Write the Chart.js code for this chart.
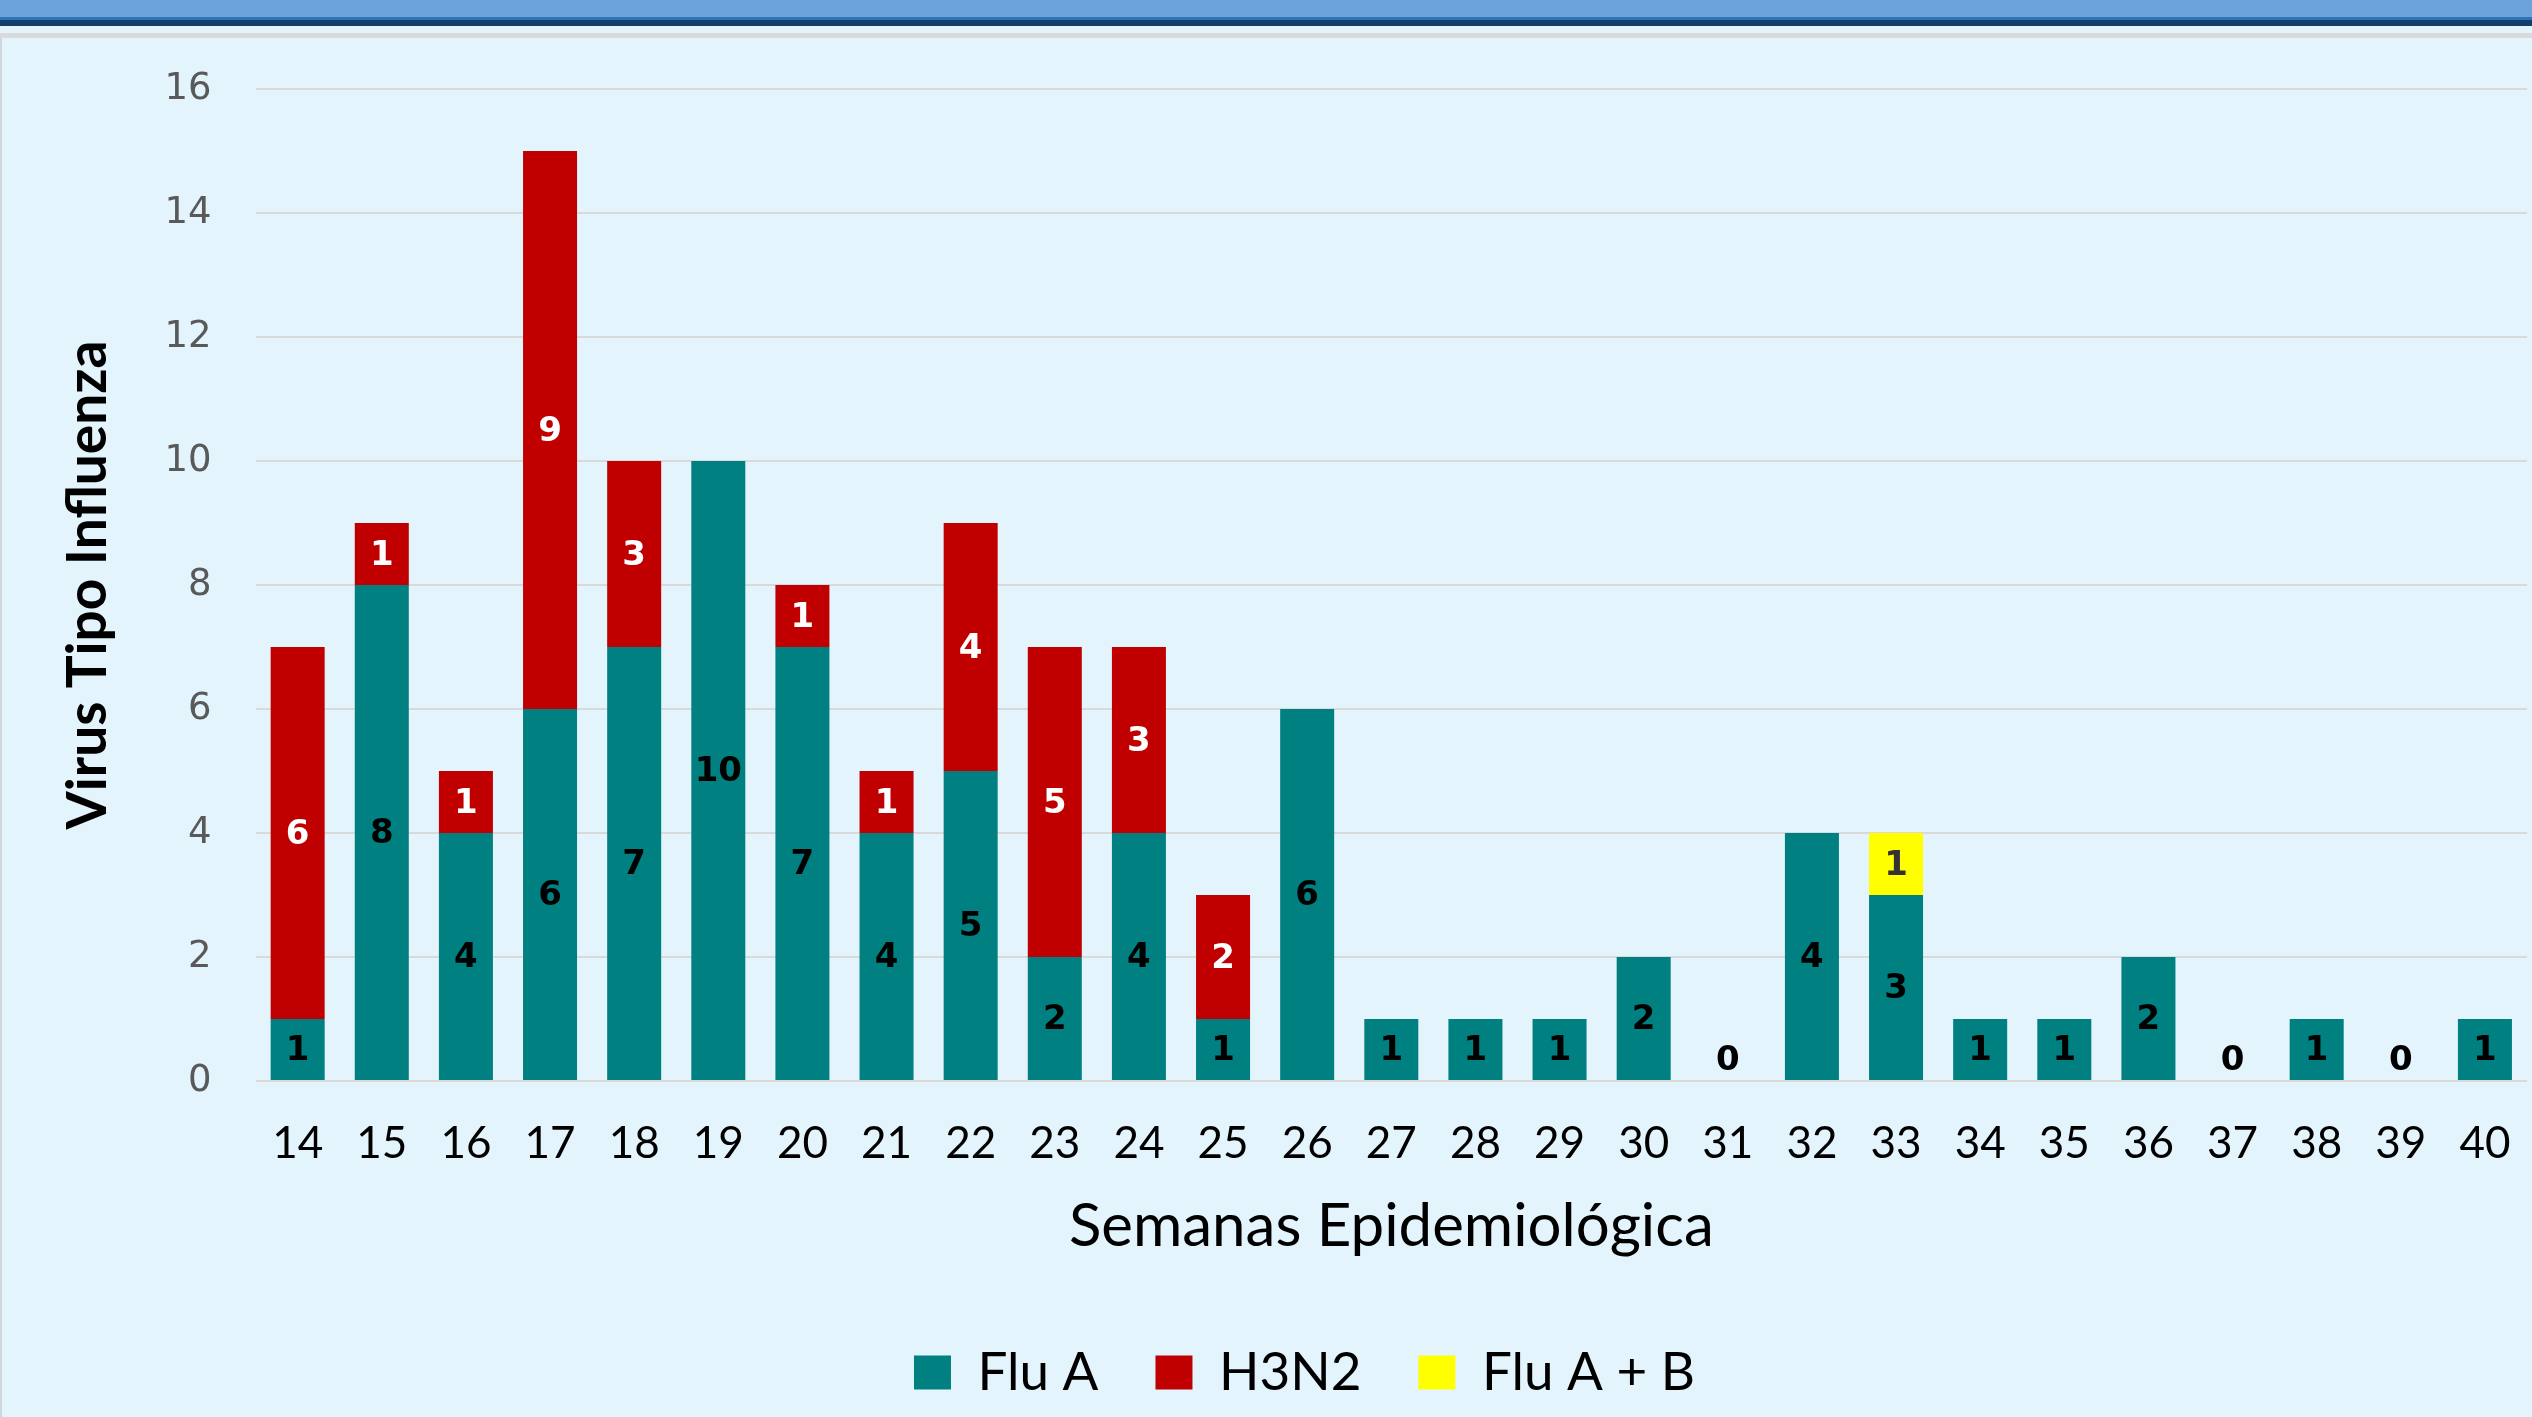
<!DOCTYPE html>
<html><head><meta charset="utf-8">
<script src="https://cdn.jsdelivr.net/npm/chart.js@4.4.0/dist/chart.umd.min.js"></script>
<style>
html,body{margin:0;padding:0;width:2532px;height:1417px;overflow:hidden;background:#E3F4FC;}
#b1{position:absolute;left:0;top:0;width:2532px;height:17px;background:#6AA4DA;}
#b2{position:absolute;left:0;top:17px;width:2532px;height:3px;background:#2F74B5;}
#b3{position:absolute;left:0;top:20px;width:2532px;height:6px;background:#123F6C;}
#b4{position:absolute;left:0;top:33px;width:2532px;height:5px;background:#D9DADB;}
#bl{position:absolute;left:0;top:38px;width:2px;height:1379px;background:#D0D6DA;}
canvas{position:absolute;left:0;top:0;}
</style></head><body>
<div id="b1"></div><div id="b2"></div><div id="b3"></div><div id="b4"></div><div id="bl"></div>
<canvas id="c" width="2532" height="1417"></canvas>
<script>
const weeks = ['14','15','16','17','18','19','20','21','22','23','24','25','26','27','28','29','30','31','32','33','34','35','36','37','38','39','40'];
const fluA  = [1,8,4,6,7,10,7,4,5,2,4,1,6,1,1,1,2,0,4,3,1,1,2,0,1,0,1];
const h3n2  = [6,1,1,9,3,0,1,1,4,5,3,2,0,0,0,0,0,0,0,0,0,0,0,0,0,0,0];
const fluAB = [0,0,0,0,0,0,0,0,0,0,0,0,0,0,0,0,0,0,0,1,0,0,0,0,0,0,0];
const seriesNames = ['Flu A','H3N2','Flu A + B'];
const xTitle = 'Semanas Epidemiológica';
const yTitle = 'Virus Tipo Influenza';

const labelPlugin = {
  id:'segLabels',
  afterDatasetsDraw(chart){
    const ctx = chart.ctx;
    ctx.save();
    ctx.font = 'bold 34px "DejaVu Sans"';
    ctx.textAlign = 'center';
    ctx.textBaseline = 'middle';
    chart.data.datasets.forEach((ds,di)=>{
      const meta = chart.getDatasetMeta(di);
      meta.data.forEach((bar,i)=>{
        const v = ds.data[i];
        if (v === 0 && di !== 0) return;
        const p = bar.getProps(['x','y','base'], true);
        let y = (p.y + p.base)/2 + 2;
        if (v === 0) y = p.base - 20;
        ctx.fillStyle = ds.labelColor;
        ctx.fillText(String(v), p.x, y);
      });
    });
    ctx.restore();
  }
};

const L = 82;
new Chart(document.getElementById('c'), {
  type:'bar',
  data:{
    labels: weeks,
    datasets:[
      {label:seriesNames[0], data:fluA, backgroundColor:'#008080', labelColor:'#000000'},
      {label:seriesNames[1], data:h3n2, backgroundColor:'#C00000', labelColor:'#FFFFFF'},
      {label:seriesNames[2], data:fluAB, backgroundColor:'#FFFF00', labelColor:'#333333'}
    ]
  },
  options:{
    responsive:false,
    animation:false,
    devicePixelRatio:1,
    layout:{padding:{left:L, right:5, top:89, bottom:8}},
    datasets:{bar:{categoryPercentage:1, barPercentage:0.642, borderWidth:0}},
    plugins:{
      legend:{
        position:'bottom',
        labels:{boxWidth:37, boxHeight:34, padding:57, color:'#000', font:{family:'Lato', size:53}}
      },
      tooltip:{enabled:false}
    },
    scales:{
      x:{
        stacked:true,
        grid:{display:false, drawTicks:false},
        border:{display:false},
        ticks:{color:'#000', padding:36, font:{family:'Lato', size:44}},
        title:{display:true, text:xTitle, color:'#000', font:{family:'Lato', size:60}, padding:{top:0, bottom:26}},
        afterFit(s){ s.height = 208; s.paddingLeft = 0; s.paddingRight = 0; }
      },
      y:{
        stacked:true,
        min:0, max:16,
        grid:{color:'#D9D9D9', lineWidth:2, drawTicks:false},
        border:{display:false},
        ticks:{stepSize:2, color:'#595959', padding:44, font:{family:'DejaVu Sans', size:37}},
        title:{display:true, text:yTitle, color:'#000', font:{family:'Lato', size:55, weight:'bold'}, padding:{top:-27, bottom:0}},
        afterFit(s){ s.width = 255.6 - L; }
      }
    }
  },
  plugins:[labelPlugin]
});
</script>
</body></html>
